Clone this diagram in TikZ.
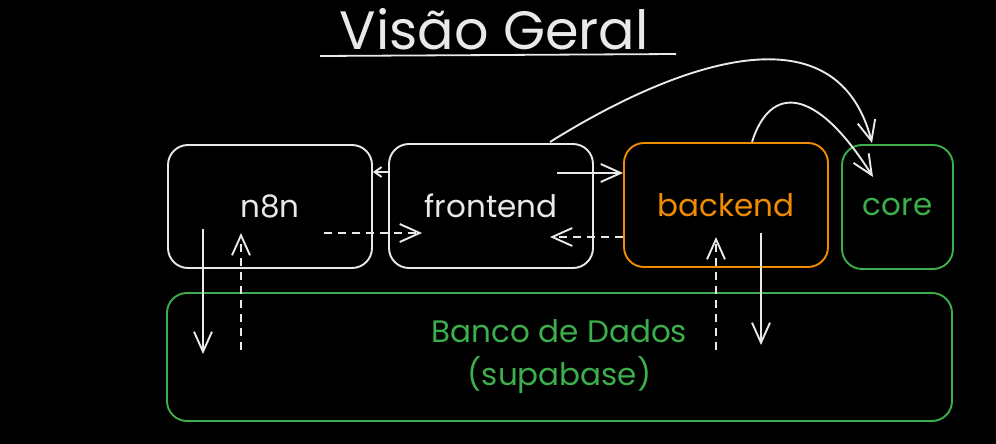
\documentclass[tikz,border=0pt]{standalone}
\usepackage{fontspec}
\setmainfont{Poppins}
\usetikzlibrary{arrows.meta}
\definecolor{ink}{HTML}{E9E9E9}
\definecolor{orng}{HTML}{F08C00}
\definecolor{grn}{HTML}{3DAE4C}
\tikzset{
  box/.style={draw, line width=1.9pt, rounded corners=20pt, inner sep=0pt, font=\fontsize{31}{36}\selectfont},
  conn/.style={draw=ink, line width=1.9pt, -{Straight Barb[length=20pt,width=18pt,line width=1.9pt]}},
  shortconn/.style={draw=ink, line width=1.9pt, -{Straight Barb[length=7pt,width=10pt,line width=1.9pt]}},
  dconn/.style={conn, dash pattern=on 8pt off 6pt},
}
\begin{document}
\begin{tikzpicture}[x=1pt,y=-1pt]
\fill[black] (0,0) rectangle (996,444);
\useasboundingbox (0,0) rectangle (996,444);
\node[text=ink, font=\fontsize{54}{60}\selectfont] (title) at (494,29) {Visão Geral};
\coordinate (ul1) at (320,56);
\coordinate (ul2) at (676,54);
\draw[ink, line width=1.8pt] (ul1) -- (ul2);

\node[box, draw=ink, text=ink, minimum width=204pt, minimum height=123pt] (n8n) at (270,206.5) {n8n};
\node[box, draw=ink, text=ink, minimum width=204pt, minimum height=124pt] (fe) at (491,206) {frontend};
\node[box, draw=orng, text=orng, minimum width=204pt, minimum height=124pt] (be) at (726,205) {backend};
\node[box, draw=grn, text=grn, minimum width=111pt, minimum height=124pt] (core) at (897.5,207) {core};
\node[box, draw=grn, text=grn, minimum width=785pt, minimum height=128pt, align=center, font=\fontsize{31}{43}\selectfont] (db) at (559.5,357) {Banco de Dados\\(supabase)};

% frontend -> n8n
\draw[shortconn] (fe.west |- 0,172) -- (n8n.east |- 0,172);
% frontend -> backend
\coordinate (feS) at (557,173);
\draw[conn] (feS) -- (be.west |- feS);
% n8n -> frontend dashed
\coordinate (n8nS) at (324,233);
\coordinate (feE) at (422,233);
\draw[dconn] (n8nS) -- (feE);
% backend -> frontend dashed
\coordinate (feE2) at (550,237);
\draw[dconn] (be.west |- feE2) -- (feE2);
% frontend -> core big curve
\coordinate (feT) at (550,142);
\coordinate (coreT) at (872,143);
\draw[conn] (feT) .. controls (665,70) and (835,0) .. (coreT);
% backend -> core small curve
\coordinate (beT) at (752,142);
\coordinate (coreI) at (873,177);
\draw[conn] (beT) .. controls (770,85) and (815,85) .. (coreI);
% n8n <-> db
\coordinate (n8nD) at (203,229);
\coordinate (dbA) at (203,354);
\draw[conn] (n8nD) -- (dbA);
\coordinate (dbB) at (241,350);
\coordinate (n8nU) at (241,233);
\draw[dconn] (dbB) -- (n8nU);
% backend <-> db
\coordinate (dbC) at (716,350);
\coordinate (beU) at (716,237);
\draw[dconn] (dbC) -- (beU);
\coordinate (beD) at (761,233);
\coordinate (dbD) at (761,345);
\draw[conn] (beD) -- (dbD);
\end{tikzpicture}
\end{document}
